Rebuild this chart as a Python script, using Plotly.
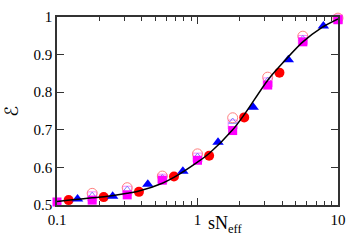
import plotly.graph_objects as go

# Theory curve
curve_x = [0.1, 0.124, 0.178, 0.217, 0.316, 0.383, 0.562, 0.684, 1.0, 1.21, 1.78, 2.12, 3.16, 3.8, 5.62, 7.66, 10]
curve_y = [0.509, 0.513, 0.519, 0.522, 0.531, 0.537, 0.558, 0.574, 0.614, 0.637, 0.700, 0.737, 0.832, 0.867, 0.934, 0.972, 0.995]

# Red filled circles
circ_x = [0.121, 0.215, 0.383, 0.68, 1.21, 2.15, 3.83]
circ_y = [0.513, 0.521, 0.535, 0.576, 0.631, 0.733, 0.852]

# Blue filled triangles
tri_x = [0.14, 0.249, 0.443, 0.787, 1.4, 2.49, 4.43, 7.87]
tri_y = [0.516, 0.523, 0.555, 0.590, 0.667, 0.760, 0.886, 0.976]

# Magenta filled squares
sq_x = [0.1, 0.178, 0.316, 0.562, 1.0, 1.78, 3.16, 5.62, 10]
sq_y = [0.508, 0.513, 0.527, 0.566, 0.619, 0.698, 0.819, 0.934, 0.993]

# Open markers
open_x = [0.178, 0.316, 0.562, 1.0, 1.78, 3.16, 5.62, 10]
ocirc_y = [0.531, 0.546, 0.577, 0.636, 0.732, 0.840, 0.949, 0.997]
otri_y = [0.525, 0.541, 0.572, 0.629, 0.722, 0.831, 0.942, 0.995]
osq_y = [0.523, 0.538, 0.570, 0.626, 0.714, 0.826, 0.939, 0.994]

xtick_vals = [0.1, 1, 10]
xtick_text = ["0.1", "1", "10"]
ytick_vals = [0.5, 0.6, 0.7, 0.8, 0.9, 1.0]
ytick_text = ["0.5", "0.6", "0.7", "0.8", "0.9", "1"]

fig = go.Figure()
fig.add_trace(go.Scatter(x=open_x, y=osq_y, mode="markers", cliponaxis=False,
                         marker=dict(symbol="square-open", size=9, color="#ff80ff", line=dict(width=1))))
fig.add_trace(go.Scatter(x=open_x, y=otri_y, mode="markers", cliponaxis=False,
                         marker=dict(symbol="triangle-up-open", size=7, color="#8080ff", line=dict(width=1))))
fig.add_trace(go.Scatter(x=open_x, y=ocirc_y, mode="markers", cliponaxis=False,
                         marker=dict(symbol="circle-open", size=10, color="#ff8080", line=dict(width=1))))
fig.add_trace(go.Scatter(x=sq_x, y=sq_y, mode="markers", cliponaxis=False,
                         marker=dict(symbol="square", size=9, color="#ff00ff")))
fig.add_trace(go.Scatter(x=circ_x, y=circ_y, mode="markers", cliponaxis=False,
                         marker=dict(symbol="circle", size=10, color="#ff0000")))
fig.add_trace(go.Scatter(x=tri_x, y=tri_y, mode="markers", cliponaxis=False,
                         marker=dict(symbol="triangle-up", size=10, color="#0000ff")))
fig.add_trace(go.Scatter(x=curve_x, y=curve_y, mode="lines", line=dict(color="black", width=1.5, shape="spline", smoothing=0.8)))

axis_font = dict(family="Liberation Serif", size=15, color="black")
fig.update_layout(
    width=353, height=247, autosize=False,
    margin=dict(l=57, r=15, t=17, b=42, pad=0),
    paper_bgcolor="white", plot_bgcolor="white",
    showlegend=False,
    font=axis_font,
    xaxis=dict(type="log", range=[-1, 1], tickvals=xtick_vals, ticktext=xtick_text,
               ticks="inside", ticklen=7, tickcolor="#333", showline=True, linecolor="#333",
               linewidth=1.5, mirror="ticks", showgrid=False, zeroline=False, tickfont=axis_font,
               automargin=False,
               minor=dict(ticks="inside", ticklen=4, tickcolor="#333", dtick="D1", showgrid=False)),
    yaxis=dict(range=[0.5, 1.0], tickvals=ytick_vals, ticktext=ytick_text,
               ticks="inside", ticklen=7, tickcolor="#333", showline=True, linecolor="#333",
               linewidth=1.5, mirror="ticks", showgrid=False, zeroline=False, tickfont=axis_font,
               automargin=False),
    annotations=[
        dict(text="sN<sub>eff</sub>", xref="paper", yref="paper", x=0.598, y=-0.105,
             xanchor="center", yanchor="middle", showarrow=False,
             font=dict(family="Liberation Serif", size=18, color="black")),
        dict(text="ℰ", xref="paper", yref="paper", x=-0.165, y=0.5,
             xanchor="center", yanchor="middle", showarrow=False, textangle=-90,
             font=dict(family="DejaVu Serif, DejaVu Sans", size=18, color="black")),
    ],
)
fig.write_html("out.html", config={"displayModeBar": False, "responsive": False},
               post_script="document.body.style.margin='0';document.body.style.padding='0';"
                           "document.documentElement.style.overflow='hidden';")
